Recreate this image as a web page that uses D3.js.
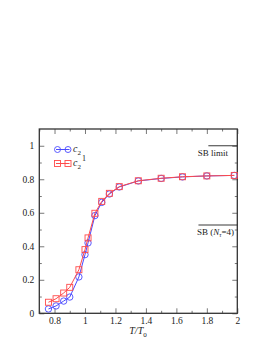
<!DOCTYPE html>
<html>
<head>
<meta charset="utf-8">
<script src="https://cdn.jsdelivr.net/npm/d3@7"></script>
<style>
body{margin:0;background:#fff;}
text{font-family:"Liberation Serif","DejaVu Serif",serif;}
</style>
</head>
<body>
<script>

// temperatures T/T0
var tVals=[0.76,0.81,0.86,0.90,0.96,1.00,1.02,1.065,1.11,1.16,1.225,1.35,1.50,1.64,1.80,1.98];
// c2 (first set, blue circles)
var c2a=[0.026,0.044,0.073,0.097,0.217,0.35,0.42,0.583,0.662,0.712,0.754,0.790,0.805,0.814,0.820,0.823];
// c2 (second set, red squares)
var c2b=[0.066,0.087,0.121,0.155,0.26,0.38,0.45,0.597,0.668,0.716,0.756,0.791,0.806,0.815,0.820,0.823];

var xTicks=[0.8,1,1.2,1.4,1.6,1.8,2];
var yTicks=[0,0.2,0.4,0.6,0.8,1];
var xMinor=[0.7,0.9,1.1,1.3,1.5,1.7,1.9];
var yMinor=[0.1,0.3,0.5,0.7,0.9];

var sbLimit=1.0;
var sbNt4=0.527;

var width=273,height=353;
var pLeft=39.3,pRight=237.3,pTop=129,pBottom=313.3;

var x=d3.scaleLinear().domain([0.7,2]).range([pLeft,pRight]);
var y=d3.scaleLinear().domain([0,1.1]).range([pBottom,pTop]);

var svg=d3.select("body").append("svg")
	.attr("width",width)
	.attr("height",height);

var fmt=function(d){return String(d);};

// axes, ticks pointing inward
svg.append("g").attr("transform","translate(0,"+pBottom+")")
	.call(d3.axisBottom(x).tickValues(xTicks).tickSize(-5).tickPadding(4).tickFormat(fmt));
svg.append("g").attr("transform","translate(0,"+pBottom+")")
	.call(d3.axisBottom(x).tickValues(xMinor).tickSize(-2.5).tickFormat(""));
svg.append("g").attr("transform","translate(0,"+pTop+")")
	.call(d3.axisTop(x).tickValues(xTicks).tickSize(-5).tickFormat(""));
svg.append("g").attr("transform","translate(0,"+pTop+")")
	.call(d3.axisTop(x).tickValues(xMinor).tickSize(-2.5).tickFormat(""));
svg.append("g").attr("transform","translate("+pLeft+",0)")
	.call(d3.axisLeft(y).tickValues(yTicks).tickSize(-5).tickPadding(5).tickFormat(fmt));
svg.append("g").attr("transform","translate("+pLeft+",0)")
	.call(d3.axisLeft(y).tickValues(yMinor).tickSize(-2.5).tickFormat(""));
svg.append("g").attr("transform","translate("+pRight+",0)")
	.call(d3.axisRight(y).tickValues(yTicks).tickSize(-5).tickFormat(""));
svg.append("g").attr("transform","translate("+pRight+",0)")
	.call(d3.axisRight(y).tickValues(yMinor).tickSize(-2.5).tickFormat(""));

svg.selectAll(".domain").remove();
svg.selectAll(".tick line").attr("stroke","#555").attr("stroke-width",0.8);
svg.selectAll(".tick text").attr("font-size",9.5).attr("fill","#222")
	.style("font-family","'Liberation Serif',serif");

svg.append("rect")
	.attr("x",pLeft).attr("y",pTop)
	.attr("width",pRight-pLeft).attr("height",pBottom-pTop)
	.attr("fill","none").attr("stroke","#333").attr("stroke-width",1.3);

// SB reference lines
svg.append("line").attr("x1",x(1.81)).attr("x2",pRight)
	.attr("y1",y(sbLimit)).attr("y2",y(sbLimit)).attr("stroke","#222").attr("stroke-width",0.9);
svg.append("text").attr("x",228).attr("y",y(sbLimit)+10)
	.attr("text-anchor","end").attr("font-size",9).attr("fill","#222").text("SB limit");

svg.append("line").attr("x1",x(1.745)).attr("x2",pRight)
	.attr("y1",y(sbNt4)).attr("y2",y(sbNt4)).attr("stroke","#222").attr("stroke-width",0.9);
var sbt=svg.append("text").attr("x",234).attr("y",y(sbNt4)+9.5)
	.attr("text-anchor","end").attr("font-size",9).attr("fill","#222");
sbt.append("tspan").text("SB (");
sbt.append("tspan").attr("font-style","italic").text("N");
sbt.append("tspan").attr("font-size",6).attr("font-style","italic").attr("dy",2).text("τ");
sbt.append("tspan").attr("dy",-2).text("=4)");

// series
var blue="#4a4aff",red="#ff4a4a";
var ptsA=tVals.map(function(t,i){return [t,c2a[i]];});
var ptsB=tVals.map(function(t,i){return [t,c2b[i]];});
var line=d3.line().x(function(d){return x(d[0]);}).y(function(d){return y(d[1]);});

svg.append("path").datum(ptsA).attr("d",line)
	.attr("fill","none").attr("stroke",blue).attr("stroke-width",1);
svg.selectAll(".ca").data(ptsA).enter().append("circle")
	.attr("cx",function(d){return x(d[0]);}).attr("cy",function(d){return y(d[1]);})
	.attr("r",3.2).attr("fill","none").attr("stroke",blue).attr("stroke-width",0.9);

svg.append("path").datum(ptsB).attr("d",line)
	.attr("fill","none").attr("stroke",red).attr("stroke-width",1);
svg.selectAll(".sb").data(ptsB).enter().append("rect")
	.attr("x",function(d){return x(d[0])-3;}).attr("y",function(d){return y(d[1])-3;})
	.attr("width",6).attr("height",6)
	.attr("fill","none").attr("stroke",red).attr("stroke-width",0.9);

// legend
var lg=svg.append("g");
lg.append("line").attr("x1",56).attr("x2",69.5).attr("y1",149.5).attr("y2",149.5).attr("stroke",blue);
lg.append("circle").attr("cx",57.5).attr("cy",149.5).attr("r",3).attr("fill","none").attr("stroke",blue).attr("stroke-width",0.9);
lg.append("circle").attr("cx",68).attr("cy",149.5).attr("r",3).attr("fill","none").attr("stroke",blue).attr("stroke-width",0.9);
var l1=lg.append("text").attr("x",73).attr("y",152).attr("font-size",10).attr("fill","#222");
l1.append("tspan").attr("font-style","italic").text("c");
l1.append("tspan").attr("font-size",7).attr("dy",3).text("2");
lg.append("text").attr("x",82).attr("y",161).attr("font-size",8).attr("fill","#222").text("1");

lg.append("line").attr("x1",56).attr("x2",69.5).attr("y1",163.5).attr("y2",163.5).attr("stroke",red);
lg.append("rect").attr("x",54.5).attr("y",160.5).attr("width",6).attr("height",6).attr("fill","none").attr("stroke",red).attr("stroke-width",0.9);
lg.append("rect").attr("x",65).attr("y",160.5).attr("width",6).attr("height",6).attr("fill","none").attr("stroke",red).attr("stroke-width",0.9);
var l2=lg.append("text").attr("x",73).attr("y",166).attr("font-size",10).attr("fill","#222");
l2.append("tspan").attr("font-style","italic").text("c");
l2.append("tspan").attr("font-size",7).attr("dy",3).text("2");

// x label
var xl=svg.append("text").attr("x",138).attr("y",334).attr("text-anchor","middle")
	.attr("font-size",10).attr("fill","#222");
xl.append("tspan").attr("font-style","italic").text("T/T");
xl.append("tspan").attr("font-size",7).attr("dy",3).text("0");

</script>
</body>
</html>
